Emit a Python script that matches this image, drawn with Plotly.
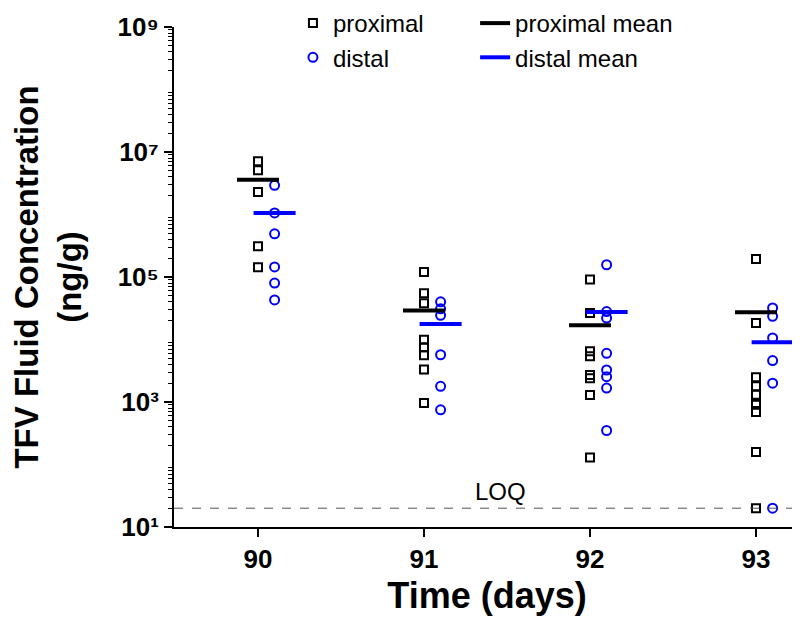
import plotly.graph_objects as go
import numpy as np

# ---------------- data ----------------
days = [90, 91, 92, 93]
distal_offset = 0.1          # distal points drawn slightly right of each day
LOQ = 20

proximal_d90 = [7.1e6, 5.1e6, 2.3e6, 3.1e5, 1.43e5]
proximal_d91 = [1.2e5, 5.5e4, 3.8e4, 9.9e3, 7.5e3, 5.6e3, 3.3e3, 9.6e2]
proximal_d92 = [9.1e4, 2.65e4, 6.5e3, 5.4e3, 2.7e3, 2.4e3, 1.3e3, 1.3e2]
proximal_d93 = [1.94e5, 1.84e4, 2.48e3, 1.78e3, 1.31e3, 9.6e2, 9.0e2, 6.9e2, 1.58e2, 20]

distal_d90 = [2.93e6, 1.06e6, 4.9e5, 1.45e5, 8.0e4, 4.3e4]
distal_d91 = [4.0e4, 3.1e4, 2.44e4, 5.7e3, 1.78e3, 7.5e2]
distal_d92 = [1.57e5, 2.8e4, 2.2e4, 6.0e3, 3.25e3, 2.54e3, 1.67e3, 3.5e2]
distal_d93 = [3.2e4, 2.35e4, 1.06e4, 4.6e3, 2.0e3, 20]

proximal_mean = [3.6e6, 2.9e4, 1.69e4, 2.72e4]
distal_mean = [1.06e6, 1.77e4, 2.75e4, 9.0e3]

ytick_labeled = [10, 1e3, 1e5, 1e7, 1e9]
ytick_text = ["10\u00b9", "10\u00b3", "10\u2075", "10\u2077", "10\u2079"]
ytick_unlabeled = [1e2, 1e4, 1e6, 1e8]
ytick_minor = [m * 10 ** k for k in range(1, 9) for m in range(2, 10)]

BLUE = "#0000FF"
FONT = "Liberation Sans, Arial, sans-serif"

proximal_sets = [proximal_d90, proximal_d91, proximal_d92, proximal_d93]
distal_sets = [distal_d90, distal_d91, distal_d92, distal_d93]

px_x, px_y, ds_x, ds_y = [], [], [], []
for d, vals in zip(days, proximal_sets):
    px_x += [d] * len(vals)
    px_y += vals
for d, vals in zip(days, distal_sets):
    ds_x += [d + distal_offset] * len(vals)
    ds_y += vals

fig = go.Figure()

fig.add_trace(go.Scatter(
    x=px_x, y=px_y, mode="markers", name="proximal", legend="legend",
    marker=dict(symbol="square-open", size=8, color="black", line=dict(width=2, color="black")),
))
fig.add_trace(go.Scatter(
    x=ds_x, y=ds_y, mode="markers", name="distal", legend="legend",
    marker=dict(symbol="circle-open", size=9, color=BLUE, line=dict(width=2, color=BLUE)),
))
fig.add_trace(go.Scatter(
    x=days, y=proximal_mean, mode="markers", showlegend=False,
    marker=dict(symbol="line-ew", size=30, color="black", line=dict(width=4, color="black")),
))
fig.add_trace(go.Scatter(
    x=[d + distal_offset for d in days], y=distal_mean, mode="markers", showlegend=False,
    marker=dict(symbol="line-ew", size=30, color=BLUE, line=dict(width=4, color=BLUE)),
))
fig.add_trace(go.Scatter(
    x=[None], y=[None], mode="lines", name="proximal mean", legend="legend2",
    line=dict(color="black", width=4),
))
fig.add_trace(go.Scatter(
    x=[None], y=[None], mode="lines", name="distal mean", legend="legend2",
    line=dict(color=BLUE, width=4),
))

fig.add_shape(type="line", xref="paper", x0=0, x1=1, yref="y", y0=LOQ, y1=LOQ,
              line=dict(color="#555555", width=1, dash="dash"))
fig.add_annotation(x=91.46, y=np.log10(LOQ), xref="x", yref="y", text="LOQ",
                   showarrow=False, yanchor="bottom", yshift=1,
                   font=dict(family=FONT, size=24, color="black"))

fig.update_layout(
    width=800, height=619,
    margin=dict(l=166, r=8, t=19, b=100, autoexpand=False),
    paper_bgcolor="white", plot_bgcolor="white",
    font=dict(family=FONT, color="black"),
    showlegend=True,
    legend=dict(x=0.19, y=1.052, xanchor="left", yanchor="top", bgcolor="rgba(0,0,0,0)",
                font=dict(family=FONT, size=24), tracegroupgap=0),
    legend2=dict(x=0.481, y=1.052, xanchor="left", yanchor="top", bgcolor="rgba(0,0,0,0)",
                 font=dict(family=FONT, size=24), tracegroupgap=0),
    xaxis=dict(
        range=[89.494, 93.265], tickvals=days, ticktext=[str(d) for d in days],
        showgrid=False, zeroline=False, showline=True, linecolor="black", linewidth=2,
        ticks="outside", ticklen=8, tickwidth=2, tickcolor="black",
        tickfont=dict(family=FONT, size=26, weight="bold"),
        title=dict(text="Time (days)", font=dict(family=FONT, size=36, weight="bold"), standoff=10),
    ),
    yaxis=dict(
        type="log", range=[1, 9], tickvals=ytick_labeled, ticktext=ytick_text,
        showgrid=False, zeroline=False, showline=True, linecolor="black", linewidth=2,
        ticks="outside", ticklen=8, tickwidth=2, tickcolor="black",
        minor=dict(tickvals=ytick_minor, ticks="outside", ticklen=4, tickwidth=1,
                   tickcolor="black", showgrid=False),
        tickfont=dict(family=FONT, size=26, weight="bold"),
        title=dict(text="TFV Fluid Concentration<br>(ng/g)",
                   font=dict(family=FONT, size=33, weight="bold"), standoff=26),
    ),
    yaxis2=dict(type="log", range=[1, 9], overlaying="y", side="left", anchor="x",
                tickvals=ytick_unlabeled, showticklabels=False, ticks="outside",
                ticklen=8, tickwidth=2, tickcolor="black", showgrid=False, zeroline=False,
                showline=False),
)

fig.write_html("out.html")
